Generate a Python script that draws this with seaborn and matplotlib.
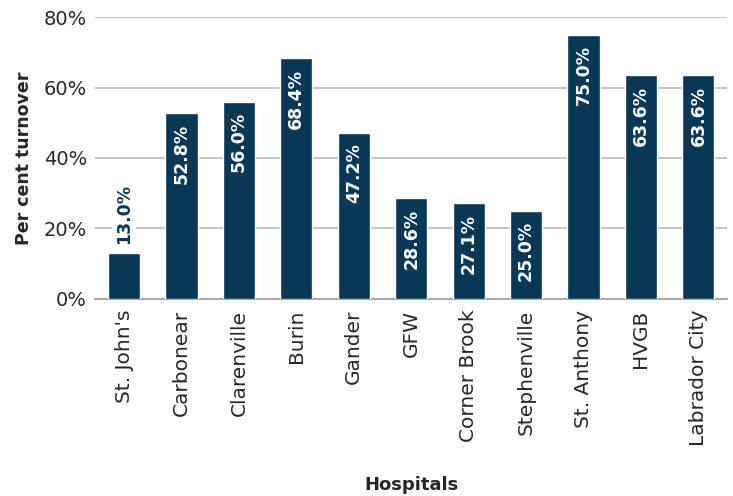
import matplotlib
matplotlib.use("Agg")
import matplotlib.pyplot as plt
import seaborn as sns
import pandas as pd

hospitals = ["St. John's", "Carbonear", "Clarenville", "Burin", "Gander", "GFW",
             "Corner Brook", "Stephenville", "St. Anthony", "HVGB", "Labrador City"]
turnover = [13.0, 52.8, 56.0, 68.4, 47.2, 28.6, 27.1, 25.0, 75.0, 63.6, 63.6]
y_ticks = [0, 20, 40, 60, 80]

sns.set_theme(style="white")
plt.rcParams["font.family"] = ["DejaVu Sans"]

bar_color = "#083856"
text_color = "#262626"

df = pd.DataFrame({"Hospital": hospitals, "Turnover": turnover})

fig, ax = plt.subplots(figsize=(7.33, 4.96), dpi=100)
fig.subplots_adjust(left=0.13, right=0.992, top=0.965, bottom=0.398)

sns.barplot(data=df, x="Hospital", y="Turnover", color=bar_color,
            saturation=1, width=0.56, ax=ax, zorder=3)

ax.set_ylim(0, 80)
ax.set_xlim(-0.5, len(hospitals) - 0.5)
ax.set_yticks(y_ticks)
ax.set_yticklabels([f"{t}%" for t in y_ticks], fontsize=14, color=text_color)
ax.yaxis.grid(True, color="#c0c0c0", linewidth=1.3, zorder=0)
ax.set_axisbelow(True)
for s in ["top", "right", "left"]:
    ax.spines[s].set_visible(False)
ax.spines["bottom"].set_color("#a0a0a0")
ax.spines["bottom"].set_linewidth(1.3)
ax.tick_params(axis="both", length=0, pad=6)
ax.tick_params(axis="x", pad=8)
plt.setp(ax.get_xticklabels(), rotation=90, fontsize=14.5, color=text_color)

ax.set_ylabel("Per cent turnover", fontsize=12.5, fontweight="bold",
              color=text_color, labelpad=8)
ax.set_xlabel("Hospitals", fontsize=13, fontweight="bold", color=text_color)
ax.xaxis.set_label_coords(0.5, -0.63)

for i, v in enumerate(turnover):
    label = f"{v:.1f}%"
    if v < 20:
        ax.text(i, v + 2.5, label, rotation=90, ha="center", va="bottom",
                fontsize=12.5, fontweight="bold", color=bar_color, zorder=4,
                bbox=dict(facecolor="white", edgecolor="none", pad=2))
    else:
        ax.text(i, v - 3.0, label, rotation=90, ha="center", va="top",
                fontsize=12.5, fontweight="bold", color="white", zorder=4)

fig.savefig("out.png", dpi=100)
